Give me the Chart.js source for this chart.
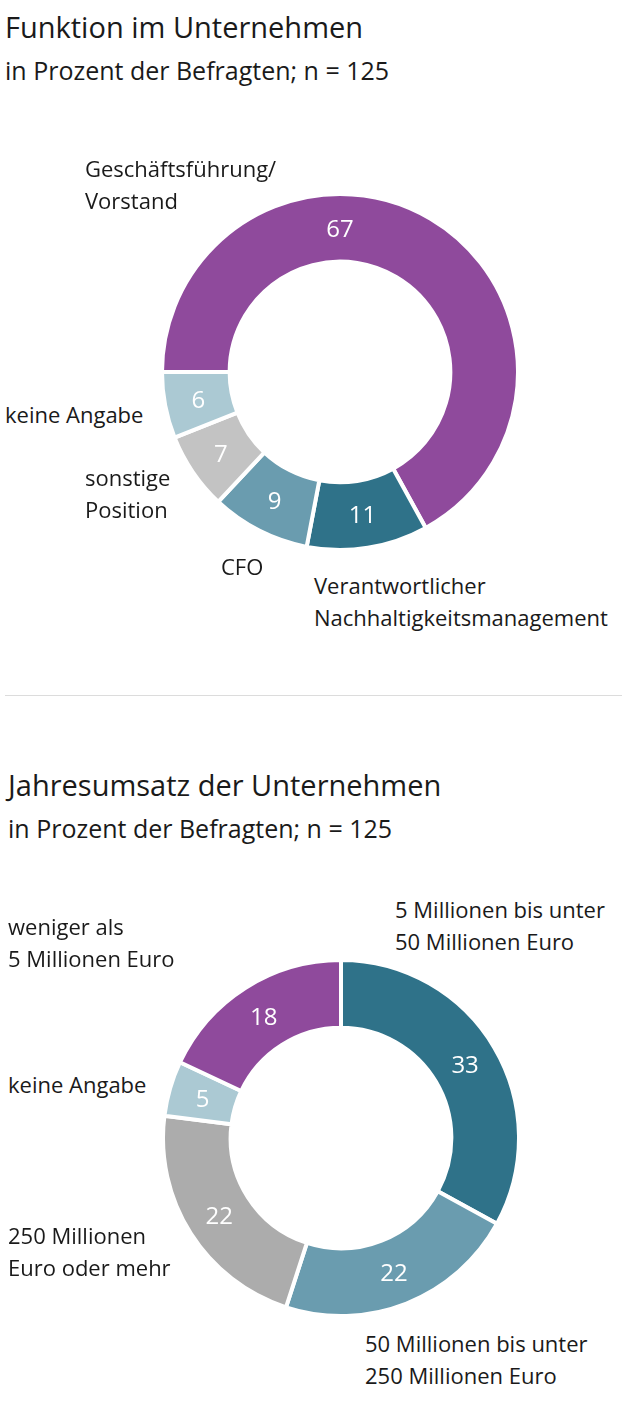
<!DOCTYPE html>
<html>
<head>
<meta charset="utf-8">
<script src="https://cdn.jsdelivr.net/npm/chart.js@4.4.1/dist/chart.umd.min.js"></script>
<style>
  html, body { margin: 0; padding: 0; background: #fff; }
  body { width: 628px; height: 1401px; position: relative; overflow: hidden; font-family: "Open Sans", sans-serif; color: #1a1a1a; }
  .title { position: absolute; font-size: 29px; font-weight: 500; line-height: 34px; white-space: nowrap; }
  .sub { position: absolute; font-size: 25px; line-height: 30px; white-space: nowrap; }
  .lbl { position: absolute; font-size: 22px; line-height: 32px; white-space: nowrap; }
  .box { position: absolute; width: 360px; height: 360px; }
  .rule { position: absolute; left: 5px; top: 695px; width: 617px; height: 1px; background: #dcdcdc; }
</style>
</head>
<body>
<div class="title" style="left:5px;top:10px">Funktion im Unternehmen</div>
<div class="sub" style="left:5px;top:55px">in Prozent der Befragten; n = 125</div>
<div class="box" style="left:160px;top:192px"><canvas id="chart1"></canvas></div>
<div class="rule"></div>
<div class="title" style="left:8px;top:768px">Jahresumsatz der Unternehmen</div>
<div class="sub" style="left:8px;top:813px">in Prozent der Befragten; n = 125</div>
<div class="box" style="left:161px;top:958px"><canvas id="chart2"></canvas></div>

<script>
// CHART 1 - FUNKTION IM UNTERNEHMEN
var funktionLabels = [
  ['Geschäftsführung/', 'Vorstand'],
  ['Verantwortlicher', 'Nachhaltigkeitsmanagement'],
  ['CFO'],
  ['sonstige', 'Position'],
  ['keine Angabe']
];
var funktionValues = [67, 11, 9, 7, 6];
var funktionColors = ['#8f4a9c', '#2f7289', '#6a9caf', '#c3c3c3', '#abc9d3'];

// CHART 2 - JAHRESUMSATZ
var umsatzLabels = [
  ['5 Millionen bis unter', '50 Millionen Euro'],
  ['50 Millionen bis unter', '250 Millionen Euro'],
  ['250 Millionen', 'Euro oder mehr'],
  ['keine Angabe'],
  ['weniger als', '5 Millionen Euro']
];
var umsatzValues = [33, 22, 22, 5, 18];
var umsatzColors = ['#2f7289', '#6a9caf', '#acacac', '#abc9d3', '#8f4a9c'];

// POSITIONS OF THE OUTSIDE LABELS (left, top of first line)
var funktionLabelPos = [[85, 152], [314, 569], [221, 550], [85, 461], [5, 398]];
var umsatzLabelPos = [[395, 893], [365, 1327], [8, 1219], [8, 1068], [8, 910]];

function placeLabels(labels, pos) {
  labels.forEach(function (lines, i) {
    var d = document.createElement('div');
    d.className = 'lbl';
    d.style.left = pos[i][0] + 'px';
    d.style.top = pos[i][1] + 'px';
    d.innerHTML = lines.join('<br>');
    document.body.appendChild(d);
  });
}
placeLabels(funktionLabels, funktionLabelPos);
placeLabels(umsatzLabels, umsatzLabelPos);

// DRAW VALUES INSIDE THE RING
var valuePlugin = {
  id: 'valueText',
  afterDatasetsDraw: function (chart, args, opts) {
    var ctx = chart.ctx;
    var meta = chart.getDatasetMeta(0);
    var values = chart.data.datasets[0].data;
    var angles = opts.angles || {};
    ctx.save();
    ctx.fillStyle = '#ffffff';
    ctx.font = '24px "Open Sans", sans-serif';
    ctx.textAlign = 'center';
    ctx.textBaseline = 'middle';
    meta.data.forEach(function (arc, i) {
      var p = arc.getProps(['x', 'y', 'startAngle', 'endAngle', 'innerRadius', 'outerRadius'], true);
      var a = angles.hasOwnProperty(i) ? angles[i] * Math.PI / 180 : (p.startAngle + p.endAngle) / 2;
      var r = (p.innerRadius + p.outerRadius) / 2;
      ctx.fillText(String(values[i]), p.x + Math.cos(a) * r, p.y + Math.sin(a) * r + 2);
    });
    ctx.restore();
  }
};

function makeDoughnut(id, values, colors, rotation, angles) {
  return new Chart(document.getElementById(id), {
    type: 'doughnut',
    data: {
      labels: values.map(String),
      datasets: [{
        data: values,
        backgroundColor: colors,
        borderColor: '#ffffff',
        borderWidth: 4
      }]
    },
    options: {
      responsive: true,
      maintainAspectRatio: false,
      animation: false,
      rotation: rotation,
      cutout: '62%',
      layout: { padding: 0 },
      plugins: {
        legend: { display: false },
        tooltip: { enabled: false },
        valueText: { angles: angles }
      }
    },
    plugins: [valuePlugin]
  });
}

makeDoughnut('chart1', funktionValues, funktionColors, -90, { 0: -90 });
makeDoughnut('chart2', umsatzValues, umsatzColors, 0, {});
</script>
</body>
</html>
